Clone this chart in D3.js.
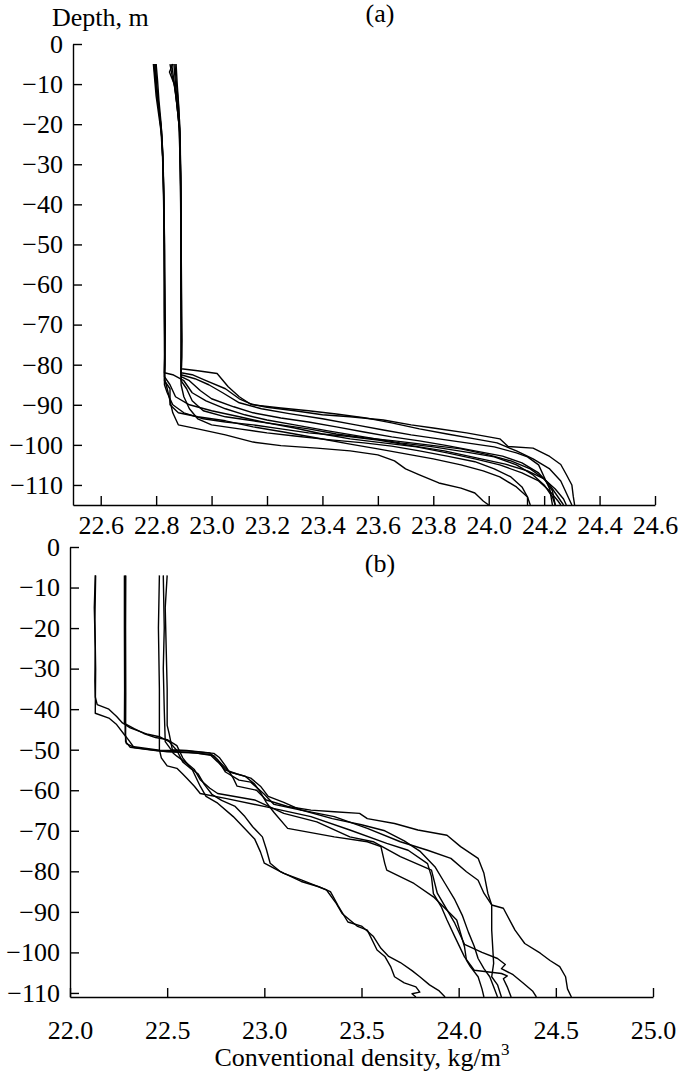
<!DOCTYPE html>
<html><head><meta charset="utf-8">
<script src="https://cdn.jsdelivr.net/npm/d3@7"></script>
<style>
body{margin:0;background:#fff;}
svg{display:block;}
text{font-family:"Liberation Serif","Times New Roman","DejaVu Serif",serif;fill:#000;}
</style></head>
<body><svg id="chart" width="685" height="1073"></svg>
<script>
// ---------- tick values ----------
const depthTicks = [0,-10,-20,-30,-40,-50,-60,-70,-80,-90,-100,-110];
const densityTicksA = [22.6,22.8,23.0,23.2,23.4,23.6,23.8,24.0,24.2,24.4,24.6];
const densityTicksB = [22.0,22.5,23.0,23.5,24.0,24.5,25.0];

// ---------- panel (a) profiles: [density, depth] ----------
const a1 = [[22.79,-5],[22.795,-9],[22.80,-13],[22.81,-18],[22.82,-23],[22.825,-30],[22.828,-45],[22.83,-60],[22.832,-72],[22.83,-82],[22.832,-84],[22.84,-86],[22.85,-89],[22.86,-92],[22.88,-95],[22.95,-96],[23.05,-97.5],[23.15,-99.3],[23.25,-100.2],[23.38,-100.8],[23.5,-101.5],[23.6,-102.5],[23.66,-104],[23.7,-106],[23.75,-107.5],[23.82,-109.5],[23.9,-110.8],[23.95,-112],[23.98,-114],[24.0,-115]];
const a2 = [[22.795,-5],[22.80,-10],[22.805,-14],[22.815,-19],[22.822,-25],[22.827,-35],[22.83,-50],[22.829,-65],[22.831,-78],[22.83,-84],[22.85,-86],[22.85,-90],[22.88,-92],[22.95,-93],[23.05,-94],[23.15,-95.5],[23.26,-96.8],[23.38,-98.3],[23.5,-99.8],[23.6,-101],[23.72,-102.5],[23.8,-103.5],[23.9,-105],[23.98,-106.5],[24.04,-108],[24.1,-110.5],[24.14,-113],[24.15,-115]];
const a3 = [[22.80,-5],[22.805,-9],[22.81,-14],[22.818,-20],[22.824,-27],[22.828,-40],[22.83,-55],[22.833,-70],[22.83,-82],[22.86,-82.5],[22.9,-84],[22.93,-87],[22.98,-89],[23.05,-91],[23.12,-92.5],[23.2,-93.8],[23.3,-95],[23.42,-96.5],[23.55,-98],[23.68,-99.5],[23.8,-100.5],[23.92,-101.8],[24.02,-103],[24.1,-105],[24.16,-107.5],[24.2,-110],[24.23,-113],[24.24,-115]];
const a4 = [[22.792,-5],[22.80,-11],[22.808,-15],[22.817,-21],[22.823,-28],[22.827,-38],[22.83,-52],[22.83,-68],[22.832,-80],[22.83,-83],[22.85,-85],[22.87,-88],[22.92,-90],[23.0,-91.5],[23.1,-93],[23.2,-94.5],[23.3,-95.8],[23.4,-97.3],[23.5,-98.5],[23.62,-99.5],[23.74,-100.5],[23.85,-102],[23.95,-103.5],[24.04,-105],[24.12,-107],[24.18,-109],[24.22,-111.5],[24.25,-114],[24.26,-115]];
const a5 = [[22.798,-5],[22.802,-10],[22.81,-16],[22.82,-22],[22.826,-32],[22.83,-48],[22.831,-62],[22.83,-76],[22.83,-85],[22.84,-87],[22.86,-90],[22.9,-92],[22.97,-93.5],[23.05,-94.3],[23.15,-95],[23.25,-96],[23.35,-97],[23.48,-97.8],[23.6,-98.8],[23.72,-100.2],[23.84,-101.5],[23.96,-103.3],[24.06,-104.8],[24.14,-106.5],[24.2,-108.5],[24.24,-111],[24.27,-113.5],[24.28,-115]];
const a6 = [[22.856,-5],[22.862,-8],[22.87,-12],[22.878,-17],[22.885,-22],[22.888,-35],[22.89,-50],[22.891,-65],[22.892,-78],[22.89,-81],[22.95,-81.5],[23.02,-82.2],[23.06,-85.5],[23.1,-88],[23.14,-89.8],[23.2,-90.6],[23.3,-91.5],[23.4,-92.5],[23.5,-93],[23.62,-93.8],[23.72,-95],[23.8,-95.8],[23.92,-97],[24.04,-98.5],[24.07,-100.4],[24.16,-100.8],[24.22,-102.9],[24.26,-104.9],[24.28,-107.4],[24.3,-110],[24.305,-112.8],[24.31,-115]];
const a7 = [[22.86,-5],[22.848,-7],[22.865,-10],[22.875,-15],[22.882,-20],[22.887,-30],[22.889,-45],[22.89,-60],[22.893,-74],[22.89,-82],[22.93,-82.5],[22.98,-84],[23.05,-86],[23.1,-88.5],[23.15,-90],[23.25,-90.8],[23.35,-91.5],[23.45,-92.3],[23.55,-93.2],[23.65,-94.5],[23.75,-96],[23.85,-97.3],[23.95,-98.5],[24.03,-99.5],[24.1,-101.5],[24.16,-103.5],[24.22,-106],[24.26,-109],[24.28,-112],[24.3,-115]];
const a8 = [[22.868,-5],[22.872,-9],[22.878,-13],[22.884,-19],[22.887,-28],[22.89,-42],[22.889,-58],[22.891,-72],[22.89,-83],[22.92,-84],[22.96,-86.5],[23.0,-88.5],[23.08,-90.5],[23.15,-92],[23.25,-93.3],[23.35,-94.3],[23.45,-95.5],[23.55,-96.8],[23.65,-98],[23.75,-99],[23.85,-100.2],[23.95,-101.5],[24.05,-102.8],[24.12,-104.5],[24.18,-107],[24.22,-110],[24.25,-113],[24.27,-115]];
const a9 = [[22.85,-5],[22.858,-8],[22.868,-11],[22.876,-16],[22.884,-21],[22.888,-32],[22.89,-48],[22.892,-64],[22.891,-78],[22.89,-84],[22.91,-86],[22.93,-89],[22.97,-91.5],[23.05,-93],[23.15,-94],[23.25,-95],[23.35,-96],[23.45,-97.3],[23.55,-98.2],[23.66,-99],[23.78,-100],[23.9,-101],[24.0,-102.5],[24.08,-104],[24.15,-106],[24.2,-108.5],[24.23,-111.5],[24.24,-115]];
const a10 = [[22.864,-5],[22.87,-10],[22.877,-15],[22.885,-21],[22.889,-33],[22.89,-50],[22.89,-66],[22.892,-80],[22.89,-82.5],[22.94,-83.5],[22.99,-85],[23.04,-87],[23.1,-89.5],[23.18,-91],[23.28,-92.2],[23.4,-93.5],[23.52,-95],[23.62,-96.3],[23.72,-97.5],[23.82,-98.5],[23.92,-99.5],[24.02,-100.5],[24.1,-102],[24.14,-103],[24.18,-105],[24.2,-108],[24.22,-111],[24.23,-115]];
const a11 = [[22.872,-5],[22.876,-10],[22.882,-16],[22.887,-24],[22.889,-38],[22.89,-55],[22.891,-70],[22.89,-85],[22.9,-88],[22.92,-91],[22.95,-93.5],[23.0,-95],[23.1,-96],[23.2,-97],[23.3,-97.8],[23.42,-98.7],[23.55,-99.5],[23.65,-100.3],[23.75,-101.5],[23.85,-102.8],[23.95,-104.2],[24.02,-106],[24.08,-108],[24.12,-110.5],[24.14,-113],[24.14,-115]];

// ---------- panel (b) profiles: [density, depth] ----------
const b1 = [[22.13,-7],[22.125,-15],[22.13,-25],[22.128,-33],[22.13,-37],[22.14,-38.9],[22.2,-40],[22.24,-41.8],[22.27,-43.4],[22.31,-44.6],[22.4,-46.2],[22.46,-46.8],[22.51,-48],[22.55,-50.2],[22.58,-53],[22.63,-55],[22.67,-59],[22.7,-61.5],[22.76,-63.2],[22.84,-66.5],[22.9,-69.5],[22.95,-72],[22.98,-75.2],[23.0,-78],[23.1,-80.5],[23.19,-82.1],[23.32,-84.6],[23.37,-87.9],[23.4,-90.4],[23.48,-93.6],[23.53,-94.5],[23.58,-99.4],[23.62,-101],[23.65,-103.5],[23.67,-106],[23.72,-107.5],[23.78,-108.5],[23.8,-109.8],[23.76,-110.2],[23.78,-111]];
const b2 = [[22.28,-7],[22.28,-20],[22.281,-35],[22.28,-43.5],[22.33,-44.8],[22.38,-46],[22.44,-47],[22.5,-47.5],[22.55,-49],[22.58,-52],[22.62,-54.5],[22.66,-56],[22.69,-58.5],[22.73,-61],[22.78,-62.5],[22.85,-64],[22.9,-66.5],[22.94,-69],[22.99,-71.5],[23.01,-74.5],[23.03,-78],[23.08,-80],[23.19,-82.5],[23.28,-83.8],[23.34,-85],[23.38,-88.5],[23.43,-92.5],[23.5,-93.5],[23.56,-96],[23.6,-99],[23.64,-101],[23.7,-102.5],[23.76,-104.5],[23.8,-106],[23.85,-108],[23.9,-109.5],[23.93,-111]];
const b3 = [[22.284,-7],[22.283,-20],[22.284,-35],[22.284,-46],[22.29,-48.5],[22.32,-49.2],[22.46,-50.1],[22.6,-50.3],[22.74,-50.9],[22.77,-52],[22.8,-54],[22.84,-57],[22.86,-59],[22.96,-60],[23.01,-62.4],[23.12,-64],[23.24,-64.9],[23.36,-65.3],[23.49,-65.7],[23.53,-67],[23.67,-68.2],[23.79,-69.8],[23.94,-71.1],[24.01,-73.9],[24.1,-76.8],[24.13,-80.5],[24.15,-85.4],[24.17,-88.3],[24.23,-89.1],[24.29,-94.5],[24.34,-97.8],[24.42,-100.2],[24.47,-102],[24.52,-103.5],[24.55,-106],[24.56,-109],[24.58,-111]];
const b4 = [[22.287,-7],[22.286,-20],[22.287,-36],[22.286,-48],[22.31,-49.4],[22.45,-50.3],[22.6,-50.6],[22.72,-51.2],[22.76,-53],[22.8,-55],[22.86,-56],[22.93,-57],[22.98,-59],[23.02,-61.5],[23.1,-63],[23.19,-64.9],[23.36,-66.5],[23.53,-69.4],[23.7,-72.7],[23.84,-74.8],[23.96,-76.8],[24.04,-80.1],[24.1,-82.2],[24.13,-85.4],[24.17,-88.3],[24.17,-94.5],[24.18,-102.7],[24.17,-106],[24.2,-108],[24.22,-111]];
const b5 = [[22.46,-7],[22.455,-20],[22.46,-35],[22.46,-50],[22.47,-52],[22.5,-54],[22.55,-54.6],[22.58,-56],[22.6,-57],[22.64,-59],[22.67,-60.8],[22.8,-62],[23.01,-64.1],[23.24,-66.5],[23.44,-69.8],[23.63,-73.1],[23.74,-74.8],[23.84,-78.1],[23.86,-81.3],[23.87,-85.5],[23.91,-88.7],[23.94,-92],[23.98,-96.1],[24.03,-101.1],[24.08,-104.4],[24.22,-105.2],[24.25,-105.8],[24.23,-106.5],[24.25,-108.5],[24.27,-111]];
const b6 = [[22.132,-7],[22.128,-18],[22.132,-30],[22.13,-41],[22.2,-42.2],[22.24,-43.8],[22.28,-46.3],[22.3,-47.5],[22.33,-49.5],[22.5,-50.5],[22.65,-50.8],[22.74,-51.5],[22.78,-53.5],[22.82,-55.5],[22.9,-56.5],[22.95,-58.5],[22.98,-60.5],[23.01,-63],[23.05,-65.5],[23.12,-69.4],[23.36,-71.5],[23.53,-72.7],[23.6,-73.9],[23.62,-78.1],[23.63,-79.7],[23.77,-83],[23.87,-86.3],[23.94,-89.6],[23.99,-92],[24.03,-98.6],[24.04,-101.9],[24.06,-103.5],[24.1,-106],[24.12,-109],[24.13,-111]];
const b7 = [[22.5,-7],[22.49,-15],[22.495,-25],[22.5,-35],[22.5,-44],[22.51,-46],[22.53,-50.8],[22.55,-51.6],[22.6,-53.3],[22.64,-54.9],[22.67,-57.4],[22.72,-59.5],[22.76,-60.8],[22.95,-62.4],[23.1,-65.7],[23.27,-67.8],[23.44,-71.5],[23.56,-72.7],[23.7,-76.4],[23.86,-79.7],[23.89,-85.4],[23.98,-92.8],[24.03,-98],[24.12,-100],[24.2,-101.5],[24.24,-103],[24.22,-104],[24.28,-105.5],[24.33,-107.5],[24.38,-109.5],[24.4,-111]];
const b8 = [[22.48,-7],[22.485,-20],[22.48,-30],[22.485,-40],[22.49,-48],[22.52,-50],[22.6,-50.2],[22.72,-50.8],[22.76,-52.5],[22.8,-55.5],[22.87,-57.5],[22.93,-58],[23.0,-61],[23.05,-63.5],[23.2,-65],[23.35,-67],[23.5,-68.5],[23.62,-70],[23.72,-72.5],[23.8,-75],[23.88,-79],[23.93,-83],[23.98,-87],[24.02,-91],[24.05,-95],[24.08,-98.5],[24.1,-101.5],[24.13,-104],[24.16,-106],[24.18,-108.5],[24.2,-111]];

const profilesA = [a1,a2,a3,a4,a5,a6,a7,a8,a9,a10,a11];
const profilesB = [b1,b2,b3,b4,b5,b6,b7,b8];

// ---------- drawing ----------
const svg = d3.select("#chart");
svg.append("rect").attr("width",685).attr("height",1073).attr("fill","#fff");
const FS = 26;
const FONT = '"Liberation Serif","Times New Roman","DejaVu Serif",serif';
const fmtDepth = d3.format("d");
const fmtDens = d3.format(".1f");

function panel(cfg){
  const x = d3.scaleLinear().domain(cfg.xDomain).range(cfg.xRange);
  const y = d3.scaleLinear().domain(cfg.yDomain).range(cfg.yRange);
  const g = svg.append("g");
  const clipId = "clip"+cfg.id;
  svg.append("clipPath").attr("id",clipId).append("rect")
    .attr("x",cfg.xRange[0]).attr("y",cfg.yRange[0]-30)
    .attr("width",cfg.xRange[1]-cfg.xRange[0]+10)
    .attr("height",cfg.yRange[1]-cfg.yRange[0]+30);
  const line = d3.line().x(d=>x(d[0])).y(d=>y(d[1]));
  g.append("g").attr("clip-path",`url(#${clipId})`)
    .selectAll("path").data(cfg.profiles).join("path")
    .attr("d",line).attr("fill","none").attr("stroke","#000")
    .attr("stroke-width",1.4).attr("stroke-linejoin","round");

  const yAxis = d3.axisLeft(y).tickValues(depthTicks).tickFormat(fmtDepth)
    .tickSizeInner(-9).tickSizeOuter(0).tickPadding(10);
  const gy = g.append("g").attr("transform",`translate(${cfg.xRange[0]},0)`).call(yAxis);
  const xAxis = d3.axisBottom(x).tickValues(cfg.xTicks).tickFormat(fmtDens)
    .tickSizeInner(-9).tickSizeOuter(0).tickPadding(cfg.xPad);
  const gx = g.append("g").attr("transform",`translate(0,${cfg.yRange[1]})`).call(xAxis);
  [gx,gy].forEach(a=>{
    a.attr("font-family",FONT);
    a.selectAll("path,line").attr("stroke","#000").attr("stroke-width",1.4);
    a.selectAll("text").attr("font-size",FS).style("font-family",FONT);
  });
  svg.append("text").attr("x",cfg.labelX).attr("y",cfg.labelY)
    .attr("text-anchor","middle").attr("font-size",FS).style("font-family",FONT).text(cfg.label);
}

panel({id:"a", xDomain:[22.5,24.6], xRange:[73,655], yDomain:[0,-115], yRange:[44,505],
  xTicks:densityTicksA, xPad:11, profiles:profilesA, label:"(a)", labelX:380, labelY:22});
panel({id:"b", xDomain:[22,25], xRange:[70,653], yDomain:[0,-111], yRange:[547,997],
  xTicks:densityTicksB, xPad:24, profiles:profilesB, label:"(b)", labelX:380, labelY:572});

svg.append("text").attr("x",52).attr("y",26).attr("font-size",FS).style("font-family",FONT).text("Depth, m");
const t = svg.append("text").attr("x",362).attr("y",1066).attr("text-anchor","middle")
  .attr("font-size",FS).style("font-family",FONT);
t.append("tspan").text("Conventional density, kg/m");
t.append("tspan").attr("font-size",17).attr("dy",-11).text("3");
</script></body></html>
